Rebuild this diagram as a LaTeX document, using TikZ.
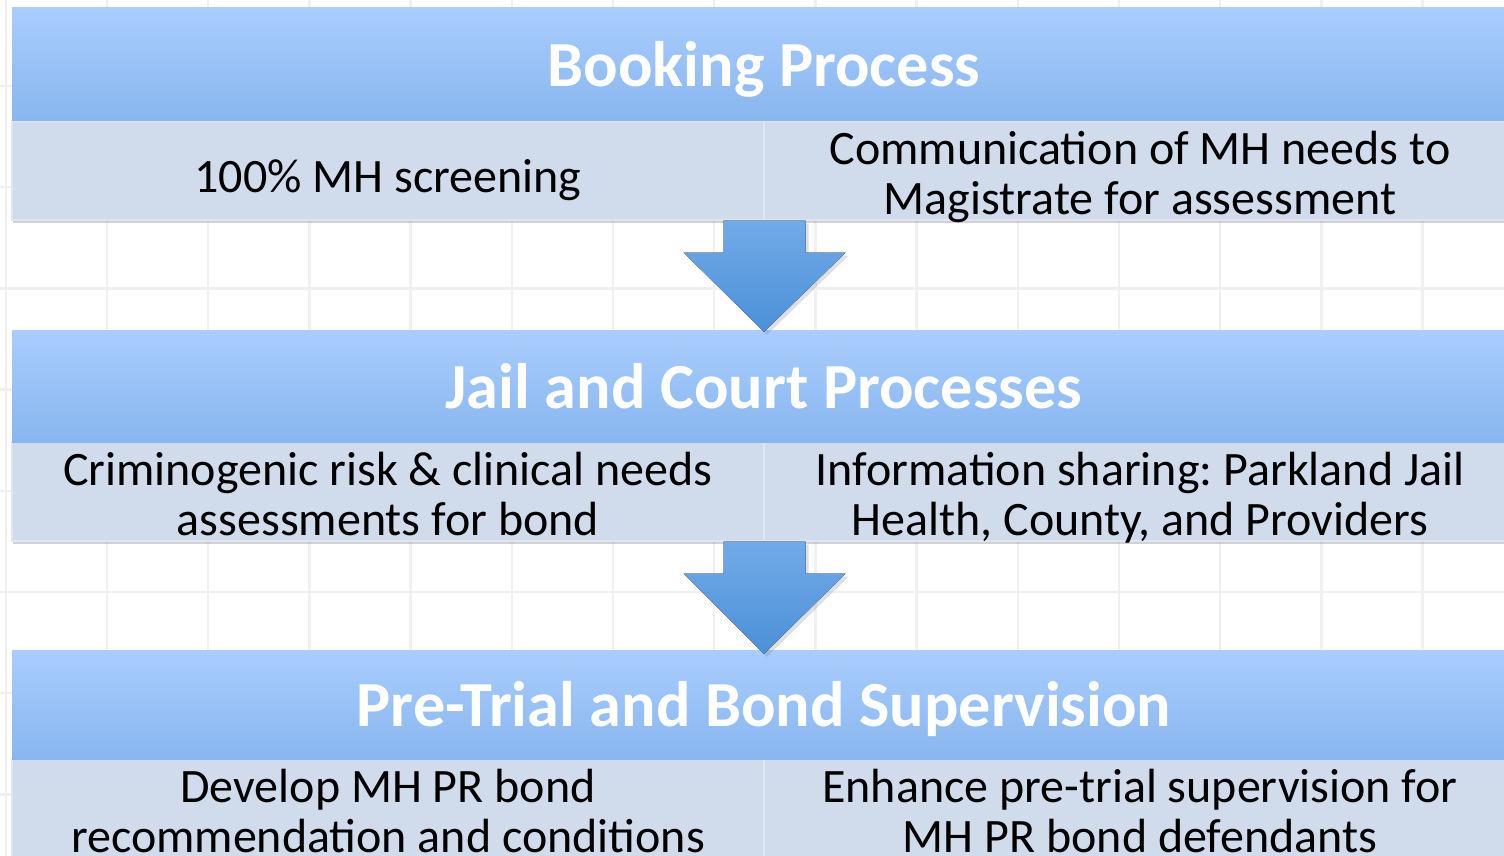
\documentclass[tikz,border=0pt]{standalone}
\usepackage{fontspec}
\setmainfont{Carlito}
\frenchspacing
\usetikzlibrary{calc,shadows}
\definecolor{headtop}{HTML}{A9CDFD}
\definecolor{headbot}{HTML}{88B6EF}
\definecolor{cellfill}{HTML}{D0DBEC}
\definecolor{celledge}{HTML}{DFE6F3}
\definecolor{arrowtop}{HTML}{72AAE9}
\definecolor{arrowbot}{HTML}{4B90D7}
\definecolor{gridgray}{HTML}{F0F0F0}
\tikzset{
	stagehead/.style={rectangle, inner sep=0pt, minimum width=1504, text height=52pt, text depth=8pt, top color=headtop, bottom color=headbot, text=white, font=\fontsize{64.3}{70}\selectfont\bfseries},
	stagecell/.style={rectangle, inner sep=0pt, minimum width=752, minimum height=99, fill=cellfill, draw=celledge, line width=1.2pt, align=center, font=\fontsize{48}{50}\selectfont, drop shadow={shadow xshift=1pt, shadow yshift=-3pt, opacity=0.35}},
	oneline/.style={text height=44pt, text depth=0pt},
	twoline/.style={text height=93pt, text depth=6pt},
	flowarrow/.style={top color=arrowtop, bottom color=arrowbot, drop shadow={shadow xshift=3pt, shadow yshift=-3pt, opacity=0.25}},
	gridline/.style={gridgray, line width=2.5pt}
}
\begin{document}
\begin{tikzpicture}[x=1pt, y=-1pt]
	\useasboundingbox[fill=white] (0,0) rectangle (1504,856);
	\foreach \gx in {0,...,14} \draw[gridline] (5.8+101.2*\gx,0) -- (5.8+101.2*\gx,856);
	\foreach \gy in {0,...,7} \draw[gridline] (0,86+101.2*\gy) -- (1504,86+101.2*\gy);

	\node[stagecell, oneline] (bookingL) at (388,170.5) {100\% MH screening};
	\node[stagecell, twoline] (bookingR) at (1140,170.5) {Communication of MH needs to\\Magistrate for assessment};
	\node[stagehead, minimum height=113] (booking) at (764,64.5) {Booking Process};

	\node[stagecell, twoline] (jailL) at (388,491.5) {Criminogenic risk \& clinical needs\\assessments for bond};
	\node[stagecell, twoline] (jailR) at (1140,491.5) {Information sharing: Parkland Jail\\Health, County, and Providers};
	\node[stagehead, minimum height=112] (jail) at (764,386) {Jail and Court Processes};

	\node[stagecell, twoline] (pretrialL) at (388,808.5) {Develop MH PR bond\\recommendation and conditions};
	\node[stagecell, twoline] (pretrialR) at (1140,808.5) {Enhance pre-trial supervision for\\MH PR bond defendants};
	\node[stagehead, minimum height=109] (pretrial) at (764,704.5) {Pre-Trial and Bond Supervision};

	\fill[flowarrow] ($(bookingL.south east)+(-41,0)$) -- ++(82,0) -- ++(0,32) -- ++(40,0)
		-- ($(jail.north)+(0,2)$) -- ($(bookingL.south east)+(-81,32)$) -- ++(40,0) -- cycle;
	\fill[flowarrow] ($(jailL.south east)+(-41,0)$) -- ++(82,0) -- ++(0,32) -- ++(40,0)
		-- ($(pretrial.north)+(0,4)$) -- ($(jailL.south east)+(-81,32)$) -- ++(40,0) -- cycle;
\end{tikzpicture}
\end{document}
